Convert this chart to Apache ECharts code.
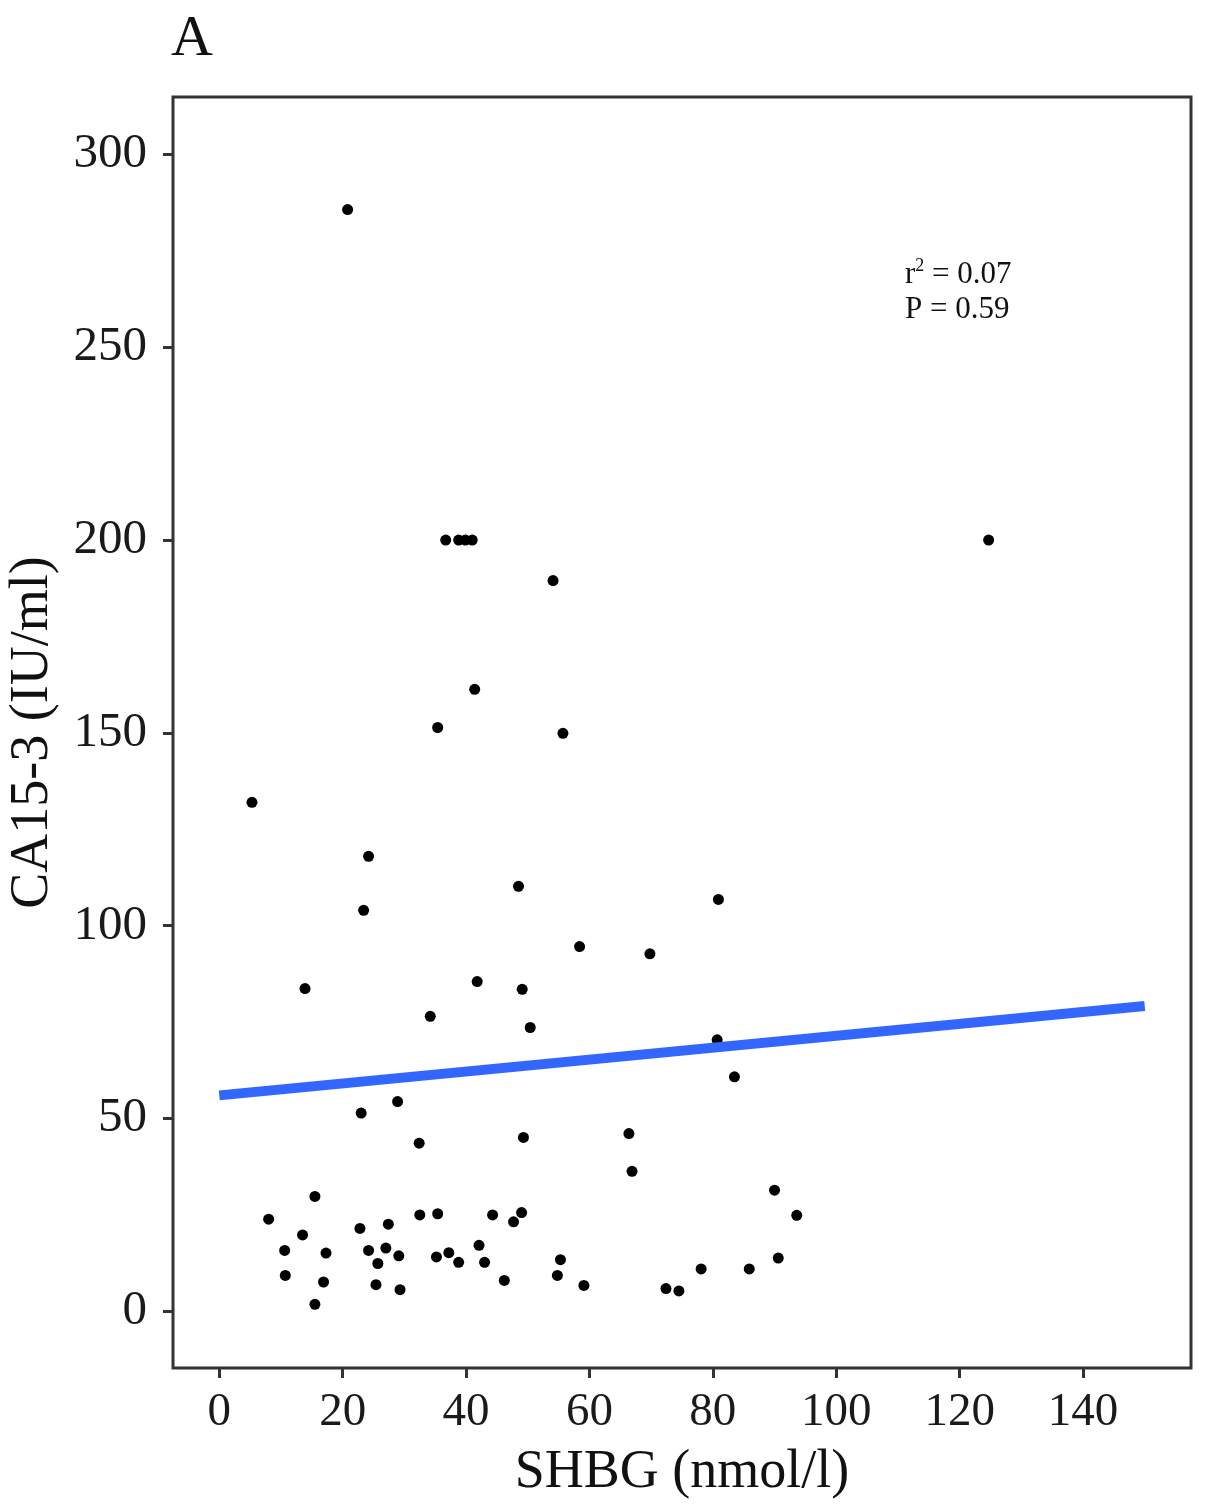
<!DOCTYPE html>
<html>
<head>
<meta charset="utf-8">
<script src="https://cdn.jsdelivr.net/npm/echarts@6/dist/echarts.min.js"></script>
<style>
  html, body { margin: 0; padding: 0; background: #fff; }
  #chart { width: 1205px; height: 1512px; }
</style>
</head>
<body>
<div id="chart"></div>
<script>
// SHBG (nmol/l) values
const shbg = [
  20.8, 36.7, 38.8, 39.9, 41.0, 54.1, 124.7, 41.4, 35.4, 55.7,
  5.3, 24.2, 48.5, 80.9, 23.4, 58.4, 69.8, 13.9, 41.8, 49.1,
  34.2, 50.4, 80.7, 83.5, 28.9, 23.0, 49.3, 32.4, 66.4, 66.9,
  90.0, 15.5, 93.6, 8.0, 13.5, 10.6, 17.3, 10.7, 16.9, 15.5,
  22.8, 27.4, 24.2, 27.0, 29.1, 25.7, 25.4, 29.3, 32.5, 35.4,
  35.2, 37.2, 38.8, 44.3, 42.1, 43.0, 46.2, 49.0, 47.7, 55.3,
  54.8, 59.1, 72.4, 74.5, 78.1, 85.9, 90.6
];
// CA15-3 (IU/ml) values
const ca153 = [
  285.7, 200, 200, 200, 200, 189.5, 200, 161.3, 151.4, 149.9,
  132, 118, 110.2, 106.8, 104, 94.6, 92.7, 83.7, 85.5, 83.5,
  76.5, 73.6, 70.4, 60.8, 54.4, 51.4, 45.1, 43.6, 46.1, 36.3,
  31.4, 29.8, 24.9, 23.9, 19.8, 15.8, 15.1, 9.3, 7.6, 1.8,
  21.5, 22.6, 15.8, 16.4, 14.4, 12.4, 6.9, 5.6, 25.0, 25.3,
  14.1, 15.2, 12.7, 25.0, 17.1, 12.7, 8.0, 25.6, 23.2, 13.4,
  9.3, 6.7, 5.9, 5.3, 11.0, 11.0, 13.8
];
// Linear fit end points
const fitX = [0, 150];
const fitY = [56.0, 79.2];
// Tick labels
const xTicks = [0, 20, 40, 60, 80, 100, 120, 140];
const yTicks = [0, 50, 100, 150, 200, 250, 300];

const points = shbg.map((x, i) => [x, ca153[i]]);
const fitLine = fitX.map((x, i) => [x, fitY[i]]);

const FONT = '"Liberation Serif", "DejaVu Serif", serif';
const chart = echarts.init(document.getElementById('chart'), null, { renderer: 'canvas' });
chart.setOption({
  animation: false,
  backgroundColor: '#ffffff',
  grid: {
    left: 173, top: 97, width: 1018, height: 1271,
    containLabel: false, outerBoundsMode: 'none',
    show: true, borderColor: '#333333', borderWidth: 3, backgroundColor: 'transparent'
  },
  xAxis: {
    type: 'value', min: -7.5, max: 157.5,
    name: 'SHBG (nmol/l)', nameLocation: 'middle', nameGap: 78,
    nameTextStyle: { fontFamily: FONT, fontSize: 54, color: '#111' },
    axisLine: { show: false, onZero: false },
    splitLine: { show: false },
    axisTick: { show: true, inside: false, customValues: xTicks, length: 10, lineStyle: { color: '#333', width: 3 } },
    axisLabel: { customValues: xTicks, fontFamily: FONT, fontSize: 47, color: '#1a1a1a', margin: 21 }
  },
  yAxis: {
    type: 'value', min: -14.7, max: 314.9,
    name: 'CA15-3 (IU/ml)', nameLocation: 'middle', nameGap: 113, nameRotate: 90,
    nameTextStyle: { fontFamily: FONT, fontSize: 54, color: '#111' },
    axisLine: { show: false, onZero: false },
    splitLine: { show: false },
    axisTick: { show: true, inside: false, customValues: yTicks, length: 10, lineStyle: { color: '#333', width: 3 } },
    axisLabel: { customValues: yTicks, fontFamily: FONT, fontSize: 49, color: '#1a1a1a', margin: 26 }
  },
  graphic: [
    { type: 'text', left: 171, top: 11, style: { text: 'A', font: '58px ' + FONT, fill: '#111' } },
    { type: 'text', left: 905, top: 257, style: {
        text: '{r|r}{s|2}{r| = 0.07}\n{r|P = 0.59}',
        rich: {
          r: { fontFamily: FONT, fontSize: 31, fill: '#111', lineHeight: 35 },
          s: { fontFamily: FONT, fontSize: 18, fill: '#111', verticalAlign: 'top', lineHeight: 35, padding: [0, 0, 14, 0] }
        }
      } }
  ],
  series: [
    {
      type: 'scatter', data: points, symbol: 'circle', symbolSize: 11,
      itemStyle: { color: '#000000', opacity: 1 }, z: 2
    },
    {
      type: 'line', data: fitLine, symbol: 'none', z: 3,
      lineStyle: { color: '#3366FF', width: 10 }
    }
  ]
});
</script>
</body>
</html>
